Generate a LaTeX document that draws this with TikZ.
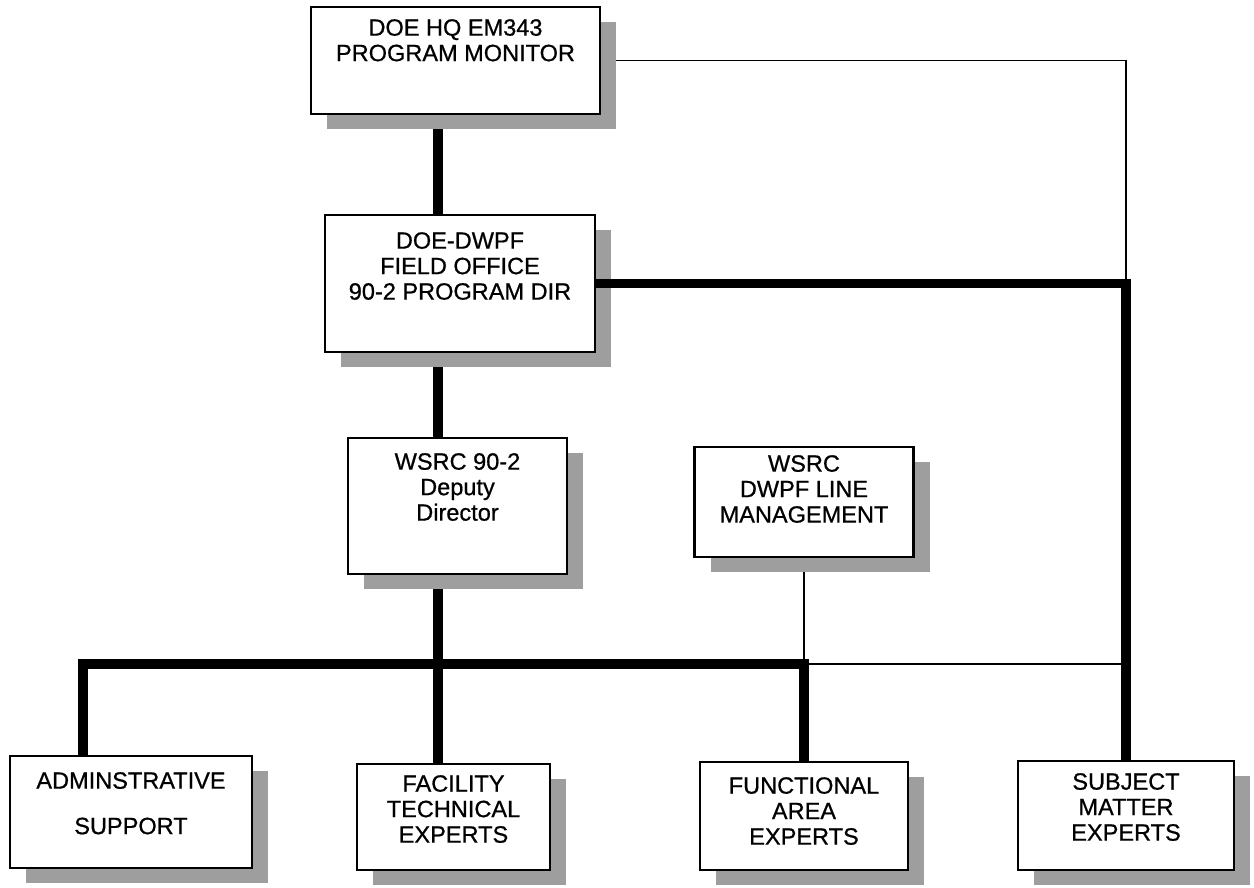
\documentclass[tikz,border=0pt]{standalone}
\usepackage{fontspec}
\setmainfont{Liberation Sans}
\newfontfamily\unitfont{Liberation Sans}[FakeBold=0.7]
\usetikzlibrary{positioning, shadows, backgrounds}

\begin{document}
\begin{tikzpicture}[
    unit/.style={draw,line width=1.3pt,fill=white,drop shadow={shadow xshift=0.32cm,shadow yshift=-0.3cm,opacity=1,fill=black!38}},
    caption/.style={inner sep=0pt,align=center,font=\unitfont\fontsize{13.4}{14.5}\selectfont},
    heavy/.style={line width=5.6pt},
    light/.style={line width=1.1pt}
  ]
    \useasboundingbox (0,0) rectangle (25.08,-17.74);
    \coordinate (trunk) at (8.76,0);
    \coordinate (busL) at (1.66,-13.28);
    \coordinate (busR) at (16.08,-13.28);

    \node[unit, minimum width=5.78cm, minimum height=2.14cm] (monitor) at (9.11,-1.21) {};
    \node[caption, below=0.26cm of monitor.north] (monitortext) {DOE HQ EM343\\PROGRAM MONITOR};

    \node[unit, minimum width=5.40cm, minimum height=2.74cm] (fieldoffice) at (9.20,-5.67) {};
    \node[caption, below=0.36cm of fieldoffice.north] (fieldofficetext) {DOE-DWPF\\FIELD OFFICE\\90-2 PROGRAM DIR};

    \node[unit, minimum width=4.38cm, minimum height=2.72cm] (deputy) at (9.15,-10.12) {};
    \node[caption, below=0.32cm of deputy.north] (deputytext) {WSRC 90-2\\Deputy\\Director};

    \node[unit, minimum width=4.38cm, minimum height=2.20cm] (linemgmt) at (16.08,-10.04) {};
    \node[caption, below=0.18cm of linemgmt.north] (linemgmttext) {WSRC\\DWPF LINE\\MANAGEMENT};

    \node[unit, minimum width=4.84cm, minimum height=2.24cm] (admin) at (2.62,-16.24) {};
    \node[caption, below=0.34cm of admin.north] (admintext) {ADMINSTRATIVE\\[0.4cm]SUPPORT};

    \node[unit, minimum width=3.86cm, minimum height=2.12cm] (facility) at (9.07,-16.34) {};
    \node[caption, below=0.24cm of facility.north] (facilitytext) {FACILITY\\TECHNICAL\\EXPERTS};

    \node[unit, minimum width=4.16cm, minimum height=2.16cm] (functional) at (16.08,-16.32) {};
    \node[caption, below=0.32cm of functional.north] (functionaltext) {FUNCTIONAL\\AREA\\EXPERTS};

    \node[unit, minimum width=4.32cm, minimum height=2.18cm] (subject) at (22.52,-16.31) {};
    \node[caption, below=0.26cm of subject.north] (subjecttext) {SUBJECT\\MATTER\\EXPERTS};

    \begin{scope}[on background layer]
      \draw[heavy] (monitor.south -| trunk) -- (fieldoffice.north -| trunk);
      \draw[heavy] (fieldoffice.south -| trunk) -- (deputy.north -| trunk);
      \draw[heavy] (deputy.south -| trunk) -- (facility.north -| trunk);
      \draw[heavy] (admin.north -| busL) -- (busL) -- (busR) -- (functional.north);
      \draw[light] (monitor.east) -| (fieldoffice.east -| subject.north);
      \draw[light] (linemgmt.south) -- (busR) -- (busR -| subject.north);
    \end{scope}
    \draw[heavy] (fieldoffice.east) -| (subject.north);
\end{tikzpicture}
\end{document}
